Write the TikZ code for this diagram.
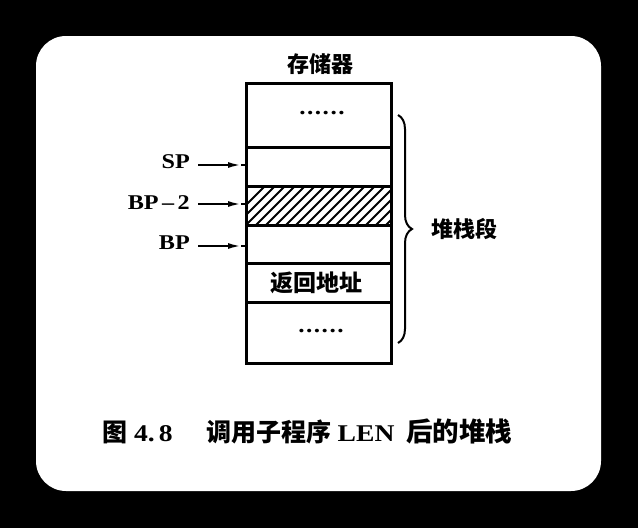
\documentclass[tikz,border=0pt]{standalone}
\usepackage{fontspec}
\newfontfamily\cjk{Noto Sans CJK SC}
\newfontfamily\lat{Liberation Serif}[FakeStretch=1.15]
\usetikzlibrary{arrows.meta,decorations.pathreplacing}
\begin{document}
\begin{tikzpicture}[x=1pt,y=-1pt,
  cn/.style={font=\cjk\bfseries\fontsize{22}{22}\selectfont, inner sep=0pt},
  lab/.style={font=\lat\bfseries\fontsize{21}{21}\selectfont, inner sep=0pt, anchor=east},
  cell/.style={draw, line width=3pt},
  ptr/.style={line width=2pt},
  tip/.style={-{Latex[length=13pt,width=6pt]}, line width=2pt},
  dots/.style={font=\lat\bfseries\fontsize{22}{22}\selectfont, inner sep=0pt}]
\useasboundingbox (0,0) rectangle (638,528);
\fill[black] (0,0) rectangle (638,528);
\fill[white, rounded corners=30pt] (36,36) rectangle (601,491);
% hatching
\begin{scope}
\clip (246,186) rectangle (391,225);
\foreach \i in {0,...,20} {
  \draw[line width=2pt] (226+10*\i,225) -- (226+10*\i+39,186);
}
\end{scope}
% cells
\draw[cell] (246,83) rectangle (391,147);
\draw[cell] (246,147) rectangle (391,186);
\draw[cell] (246,186) rectangle (391,225);
\draw[cell] (246,225) rectangle (391,263);
\draw[cell] (246,263) rectangle (391,302);
\draw[cell] (246,302) rectangle (391,363);
\node[cn] (title) at (320,64) {存储器};
\node[dots] (d1) at (322,113) {.\hspace{1.5pt}.\hspace{1.5pt}.\hspace{1.5pt}.\hspace{1.5pt}.\hspace{1.5pt}.};
\node[cn, font=\cjk\bfseries\fontsize{23}{23}\selectfont] (ret) at (316,283) {返回地址};
\node[dots] (d2) at (321,331) {.\hspace{1.5pt}.\hspace{1.5pt}.\hspace{1.5pt}.\hspace{1.5pt}.\hspace{1.5pt}.};
% pointers
\coordinate (bx1) at (246,165);
\coordinate (bx2) at (246,204);
\coordinate (bx3) at (246,246);
\node[lab] (sp) at (190,162) {SP};
\node[lab] (bp2) at (190,203) {BP\,–\,2};
\node[lab] (bp) at (190,243) {BP};
\coordinate (a1) at (198,165);
\coordinate (a2) at (198,204);
\coordinate (a3) at (198,246);
\coordinate (t1) at (241,165);
\coordinate (t2) at (241,204);
\coordinate (t3) at (241,246);
\foreach \k in {1,2,3} {
  \draw[tip] (a\k) -- (t\k);
  \draw[ptr] (t\k) -- (bx\k);
}
% brace
\coordinate (br1) at (398,115);
\coordinate (br2) at (398,343);
\draw[line width=2pt, decorate, decoration={brace, amplitude=14pt}] (br1) -- (br2);
\node[cn, anchor=west] (seg) at (431,229) {堆栈段};
% caption
\node[inner sep=0pt, anchor=west, font=\lat\bfseries\fontsize{24}{24}\selectfont] (cap) at (102,431)
 {{\cjk\fontsize{25}{25}\selectfont 图}\hspace{7pt}4.\,8\hspace{34pt}{\cjk\fontsize{25}{25}\selectfont 调用子程序}\hspace{6pt}LEN\hspace{12pt}{\cjk\fontsize{26.5}{26.5}\selectfont 后的堆栈}};
\end{tikzpicture}
\end{document}
